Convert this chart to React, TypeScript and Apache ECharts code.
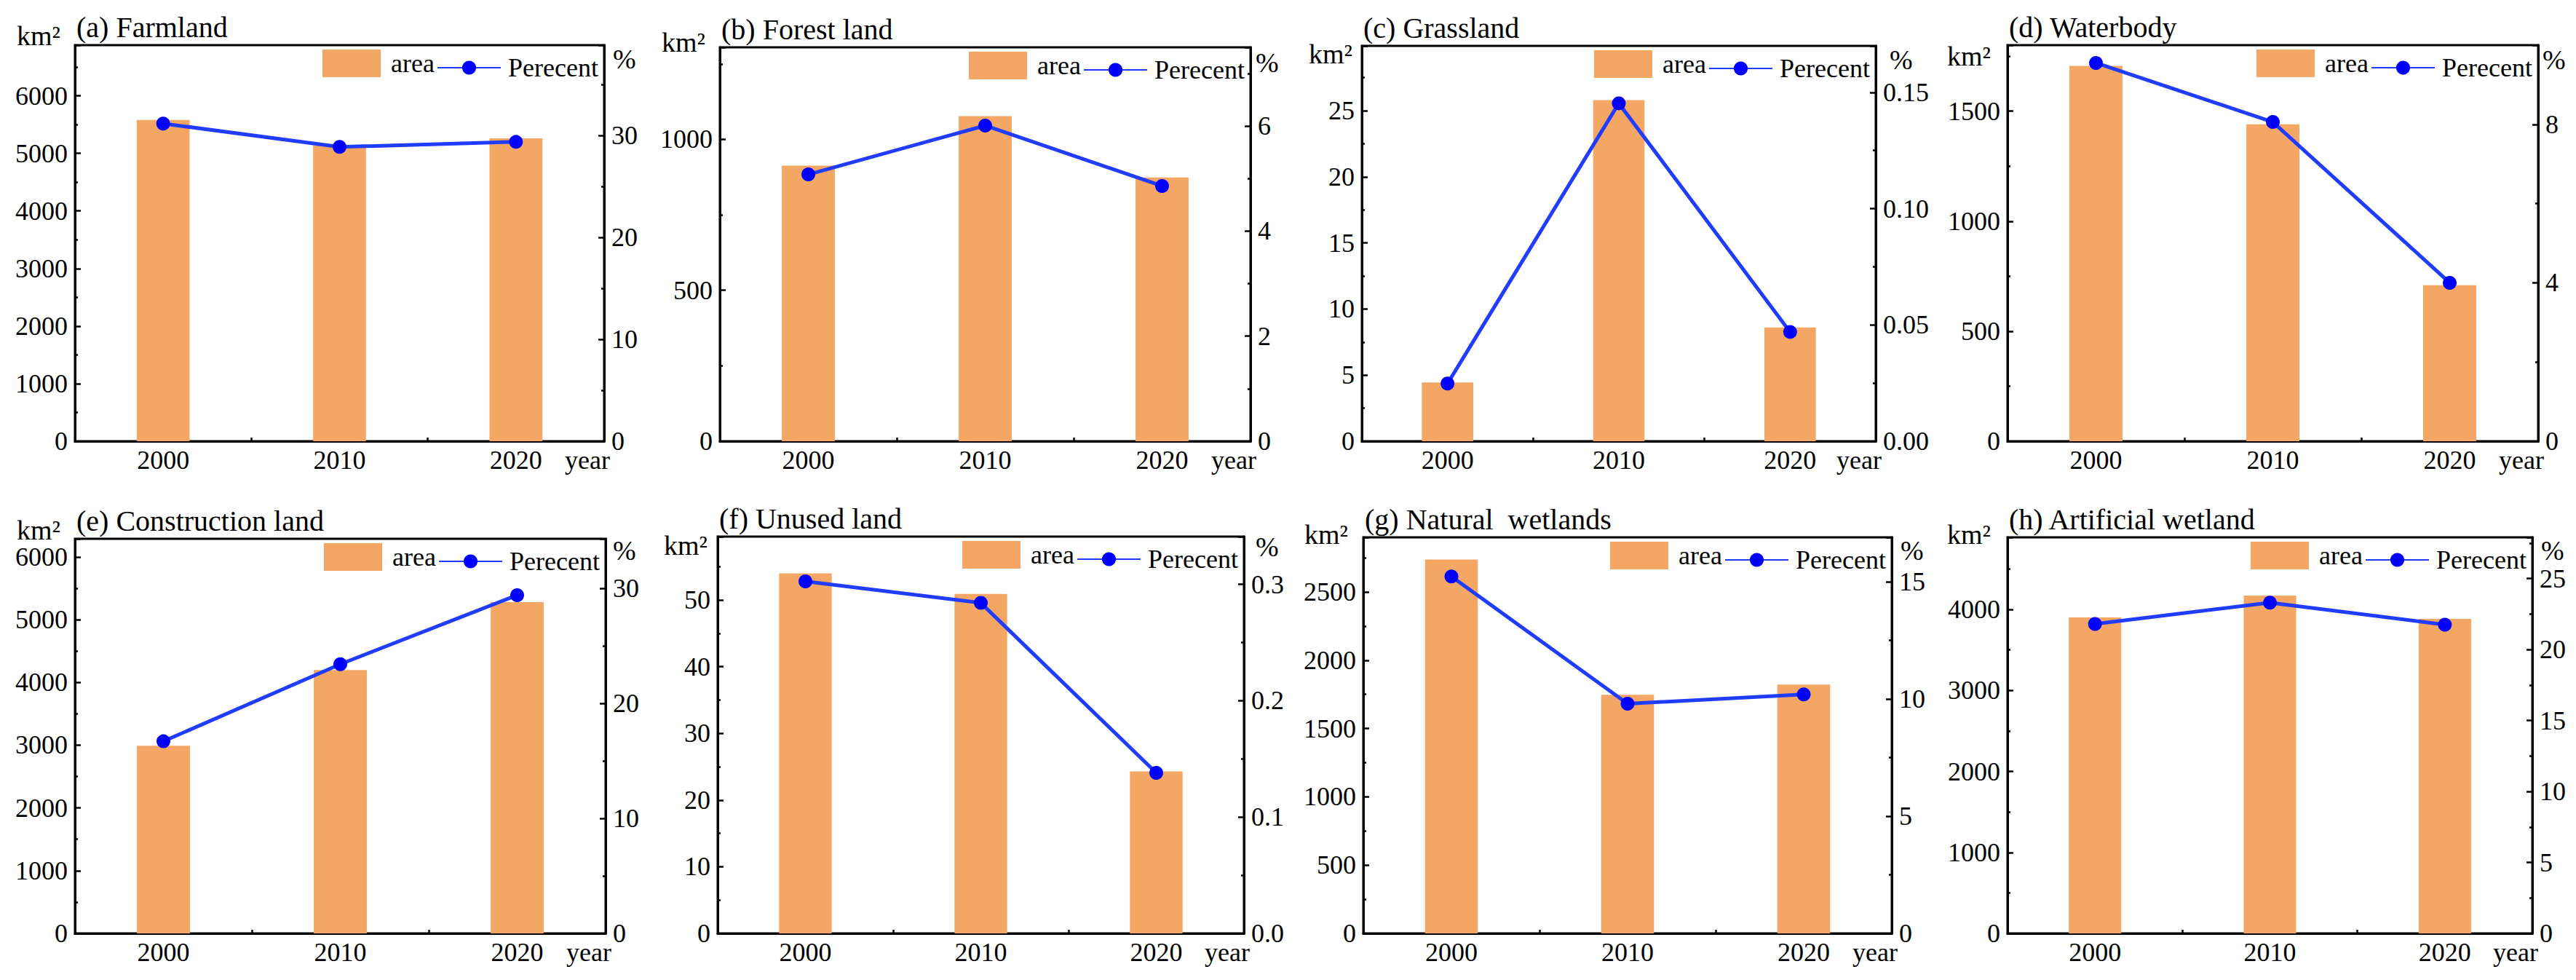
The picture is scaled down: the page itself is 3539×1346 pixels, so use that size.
import React, { useEffect, useRef } from 'react';
import * as echarts from 'echarts';

// ---------- data ----------
const years = ['2000', '2010', '2020'];

const farmlandArea = [5580, 5140, 5260];
const farmlandPct = [31.2, 28.9, 29.4];

const forestArea = [913, 1077, 874];
const forestPct = [5.08, 6.01, 4.86];

const grassArea = [4.45, 25.8, 8.6];
const grassPct = [0.0248, 0.1453, 0.047];

const waterArea = [1706, 1440, 709];
const waterPct = [9.55, 8.06, 4.0];

const constructionArea = [2990, 4198, 5280];
const constructionPct = [16.7, 23.4, 29.4];

const unusedArea = [54.0, 50.9, 24.3];
const unusedPct = [0.3025, 0.284, 0.138];

const naturalArea = [2738, 1747, 1822];
const naturalPct = [15.23, 9.8, 10.2];

const artificialArea = [3901, 4171, 3883];
const artificialPct = [21.8, 23.3, 21.75];

const titles = [
  '(a) Farmland',
  '(b) Forest land',
  '(c) Grassland',
  '(d) Waterbody',
  '(e) Construction land',
  '(f) Unused land',
  '(g) Natural  wetlands',
  '(h) Artificial wetland',
];

const areaSeries = [farmlandArea, forestArea, grassArea, waterArea, constructionArea, unusedArea, naturalArea, artificialArea];
const pctSeries = [farmlandPct, forestPct, grassPct, waterPct, constructionPct, unusedPct, naturalPct, artificialPct];

// axis scales (left: km2, right: %)
const leftMax = [6880, 1305, 29.9, 1800, 6290, 59.5, 2900, 4890];
const leftInterval = [1000, 500, 5, 500, 1000, 10, 500, 1000];
const rightMax = [38.9, 7.5, 0.17, 10, 34.3, 0.341, 16.9, 27.9];
const rightInterval = [10, 2, 0.05, 4, 10, 0.1, 5, 5];
const rightDecimals = [0, 0, 2, 0, 0, 1, 0, 0];

// ---------- layout ----------
const boxes = [
  { l: 103, r: 830, t: 62, b: 606, kmR: 83, kmY: 49, pctX: 842, pctY: 81 },
  { l: 989, r: 1718, t: 65, b: 606, kmR: 969, kmY: 58, pctX: 1725, pctY: 86 },
  { l: 1871, r: 2577, t: 63, b: 606, kmR: 1858, kmY: 74, pctX: 2596, pctY: 82 },
  { l: 2758, r: 3487, t: 62, b: 606, kmR: 2735, kmY: 77, pctX: 3493, pctY: 82 },
  { l: 103, r: 832, t: 740, b: 1282, kmR: 83, kmY: 728, pctX: 842, pctY: 756 },
  { l: 986, r: 1709, t: 737, b: 1282, kmR: 972, kmY: 749, pctX: 1725, pctY: 751 },
  { l: 1873, r: 2599, t: 738, b: 1282, kmR: 1852, kmY: 734, pctX: 2611, pctY: 756 },
  { l: 2758, r: 3479, t: 738, b: 1282, kmR: 2735, kmY: 734, pctX: 3491, pctY: 756 },
];

const FONT = 'Liberation Serif';
const BAR = '#F4A664';
const LINE = '#1f3cff';
const DOT = '#0000ff';
const BLACK = '#000000';

function textEl(text: string, x: number, y: number, size: number, align: string) {
  return {
    type: 'text',
    x,
    y,
    z: 100,
    silent: true,
    style: {
      text,
      fontSize: size,
      fontFamily: FONT,
      fill: BLACK,
      textAlign: align,
      textVerticalAlign: 'middle',
      align,
      verticalAlign: 'middle',
    },
  };
}

function buildOption() {
  const grid: any[] = [];
  const xAxis: any[] = [];
  const yAxis: any[] = [];
  const series: any[] = [];
  const legend: any[] = [];
  const graphic: any[] = [];

  boxes.forEach((bx, i) => {
    grid.push({
      left: bx.l,
      top: bx.t,
      width: bx.r - bx.l,
      height: bx.b - bx.t,
      show: true,
      borderColor: BLACK,
      borderWidth: 3,
      backgroundColor: 'transparent',
      containLabel: false,
      outerBoundsMode: 'none',
    });

    xAxis.push({
      type: 'category',
      gridIndex: i,
      data: years,
      position: 'bottom',
      axisLine: { show: true, lineStyle: { color: BLACK, width: 3 } },
      axisTick: { show: true, inside: true, alignWithLabel: true, interval: 0, length: 9, lineStyle: { color: BLACK, width: 2.5 } },
      axisLabel: { show: true, interval: 0, color: BLACK, fontSize: 36, fontFamily: FONT, margin: 8 },
      splitLine: { show: false },
    });
    xAxis.push({
      type: 'category',
      gridIndex: i,
      data: years,
      position: 'bottom',
      axisLine: { show: false },
      axisTick: { show: true, inside: true, alignWithLabel: false, interval: 0, length: 5, lineStyle: { color: BLACK, width: 2.5 } },
      axisLabel: { show: false },
      splitLine: { show: false },
    });

    const common = {
      type: 'value',
      gridIndex: i,
      min: 0,
      axisLine: { show: true, lineStyle: { color: BLACK, width: 3 } },
      axisTick: { show: true, inside: true, length: 8, lineStyle: { color: BLACK, width: 2.5 } },
      minorTick: { show: true, splitNumber: 2, length: 4, lineStyle: { color: BLACK, width: 2.5 } },
      splitLine: { show: false },
      minorSplitLine: { show: false },
    };
    yAxis.push({
      ...common,
      position: 'left',
      max: leftMax[i],
      interval: leftInterval[i],
      axisLabel: {
        color: BLACK,
        fontSize: 36,
        fontFamily: FONT,
        margin: 10,
        showMaxLabel: false,
        formatter: (v: number) => String(v),
      },
    });
    const dec = rightDecimals[i];
    yAxis.push({
      ...common,
      position: 'right',
      max: rightMax[i],
      interval: rightInterval[i],
      axisLabel: {
        color: BLACK,
        fontSize: 36,
        fontFamily: FONT,
        margin: 10,
        showMaxLabel: false,
        formatter: (v: number) => v.toFixed(dec),
      },
    });

    series.push({
      type: 'bar',
      name: 'area',
      xAxisIndex: 2 * i,
      yAxisIndex: 2 * i,
      data: areaSeries[i],
      barWidth: '30%',
      itemStyle: { color: BAR },
      z: 2,
    });
    series.push({
      type: 'line',
      name: 'Perecent',
      xAxisIndex: 2 * i,
      yAxisIndex: 2 * i + 1,
      data: pctSeries[i],
      symbol: 'circle',
      symbolSize: 19,
      lineStyle: { color: LINE, width: 5 },
      itemStyle: { color: DOT },
      z: 3,
    });

    const cy = bx.t + 25;
    legend.push({
      show: true,
      data: [{ name: 'area', icon: 'rect' }],
      left: bx.r - 387,
      top: cy - 19,
      padding: 0,
      itemWidth: 80,
      itemHeight: 38,
      selectedMode: false,
      textStyle: { color: BLACK, fontSize: 36, fontFamily: FONT, padding: [0, 0, 0, 9] },
    });
    legend.push({
      show: true,
      data: ['Perecent'],
      left: bx.r - 230,
      top: cy - 12,
      padding: 0,
      itemWidth: 87,
      itemHeight: 24,
      selectedMode: false,
      textStyle: { color: BLACK, fontSize: 36, fontFamily: FONT, padding: [0, 0, 0, 5] },
    });

    graphic.push(textEl(titles[i], bx.l + 2, bx.t - 25, 40, 'left'));
    graphic.push(textEl('km²', bx.kmR, bx.kmY, 38, 'right'));
    graphic.push(textEl('%', bx.pctX, bx.pctY, 38, 'left'));
    graphic.push(textEl('year', bx.r + 8, bx.b + 26, 36, 'right'));
  });

  return {
    animation: false,
    backgroundColor: '#ffffff',
    textStyle: { fontFamily: FONT },
    grid,
    xAxis,
    yAxis,
    series,
    legend,
    graphic: { elements: graphic },
  };
}

export default function App() {
  const ref = useRef<HTMLDivElement>(null);
  useEffect(() => {
    if (!ref.current) return;
    const chart = echarts.init(ref.current, undefined, { renderer: 'svg' });
    chart.setOption(buildOption() as any);
    return () => {
      chart.dispose();
    };
  }, []);
  return (
    <div
      ref={ref}
      style={{ position: 'absolute', left: 0, top: 0, width: 3539, height: 1346, background: '#fff' }}
    />
  );
}
